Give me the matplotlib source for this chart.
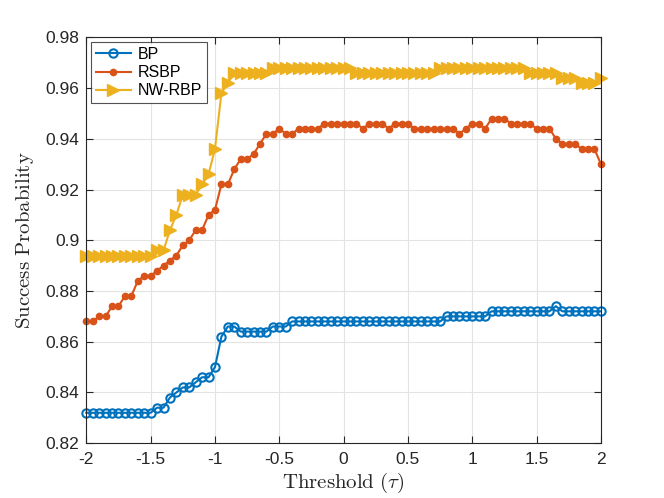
import numpy as np
import matplotlib
matplotlib.use('Agg')
import matplotlib.pyplot as plt

# threshold grid (tau)
tau = np.linspace(-2, 2, 81)

bp = [0.832] * 11 + [0.834, 0.834, 0.838, 0.840, 0.842, 0.842, 0.844, 0.846, 0.846, 0.850,
                     0.862, 0.866, 0.866] \
     + [0.864] * 5 + [0.866] * 3 + [0.868] * 24 + [0.870] * 7 + [0.872] * 10 + [0.874] + [0.872] * 7

rsbp = [0.868, 0.868, 0.870, 0.870, 0.874, 0.874, 0.878, 0.878, 0.884, 0.886,
        0.886, 0.888, 0.890, 0.892, 0.894, 0.898, 0.900, 0.904, 0.904, 0.910,
        0.912, 0.922, 0.922, 0.928, 0.932, 0.932, 0.934, 0.938, 0.942, 0.942,
        0.944, 0.942, 0.942, 0.944, 0.944, 0.944, 0.944, 0.946, 0.946, 0.946,
        0.946, 0.946, 0.946, 0.944, 0.946, 0.946, 0.946, 0.944, 0.946, 0.946,
        0.946, 0.944, 0.944, 0.944, 0.944, 0.944, 0.944, 0.944, 0.942, 0.944,
        0.946, 0.946, 0.944, 0.948, 0.948, 0.948, 0.946, 0.946, 0.946, 0.946,
        0.944, 0.944, 0.944, 0.940, 0.938, 0.938, 0.938, 0.936, 0.936, 0.936,
        0.930]

nwrbp = [0.894] * 11 + [0.896, 0.896, 0.904, 0.910, 0.918, 0.918, 0.918, 0.922, 0.926, 0.936,
                        0.958, 0.962] \
        + [0.966] * 6 + [0.968] * 13 + [0.966] * 13 + [0.968] * 14 + [0.966] * 5 \
        + [0.964] * 3 + [0.962] * 3 + [0.964]

labels = ['BP', 'RSBP', 'NW-RBP']
colors = ['#0072BD', '#D95319', '#EDB120']

plt.rcParams['font.family'] = ['Liberation Sans', 'DejaVu Sans']
plt.rcParams['mathtext.fontset'] = 'cm'

fig = plt.figure(figsize=(6.64, 4.98), dpi=100)
ax = fig.add_axes([0.13, 0.11, 0.775, 0.815])

ax.plot(tau, bp, color=colors[0], lw=1.5, marker='o', ms=6, mfc='none', mew=1.5,
        label=labels[0], clip_on=False, zorder=3)
ax.plot(tau, rsbp, color=colors[1], lw=1.5, marker='o', ms=4.5, mfc=colors[1], mec=colors[1],
        label=labels[1], clip_on=False, zorder=3)
ax.plot(tau, nwrbp, color=colors[2], lw=1.5, marker='>', ms=8, mfc=colors[2], mec=colors[2],
        label=labels[2], clip_on=False, zorder=3)

ax.set_xlim(-2, 2)
ax.set_ylim(0.82, 0.98)
ax.set_xticks(np.arange(-2, 2.01, 0.5))
ax.set_xticklabels(['-2', '-1.5', '-1', '-0.5', '0', '0.5', '1', '1.5', '2'])
ax.set_yticks(np.arange(0.82, 0.981, 0.02))
ax.set_yticklabels(['0.82', '0.84', '0.86', '0.88', '0.9', '0.92', '0.94', '0.96', '0.98'])

ax.grid(True, color='#e3e3e3', lw=0.8)
ax.set_axisbelow(True)
for s in ax.spines.values():
    s.set_color('#262626')
    s.set_linewidth(0.8)
    s.set_zorder(4)
ax.tick_params(direction='in', length=5, width=0.8, colors='#262626', labelsize=12.5,
               top=True, right=True)
ax.tick_params(axis='x', pad=6)
ax.tick_params(axis='y', pad=5)

ax.set_xlabel(r'$\mathrm{Threshold}\ (\tau)$', fontsize=15, color='#262626', labelpad=3)
ax.set_ylabel(r'$\mathrm{Success\ Probability}$', fontsize=15, color='#262626', labelpad=7)

leg = ax.legend(loc='upper left', fontsize=11.5, frameon=True, fancybox=False,
                edgecolor='#262626', borderaxespad=0.3, handlelength=2.2,
                labelspacing=0.2, borderpad=0.3, handletextpad=0.4)
leg.get_frame().set_linewidth(0.8)
leg.set_zorder(5)

fig.savefig('out.png', dpi=100)
